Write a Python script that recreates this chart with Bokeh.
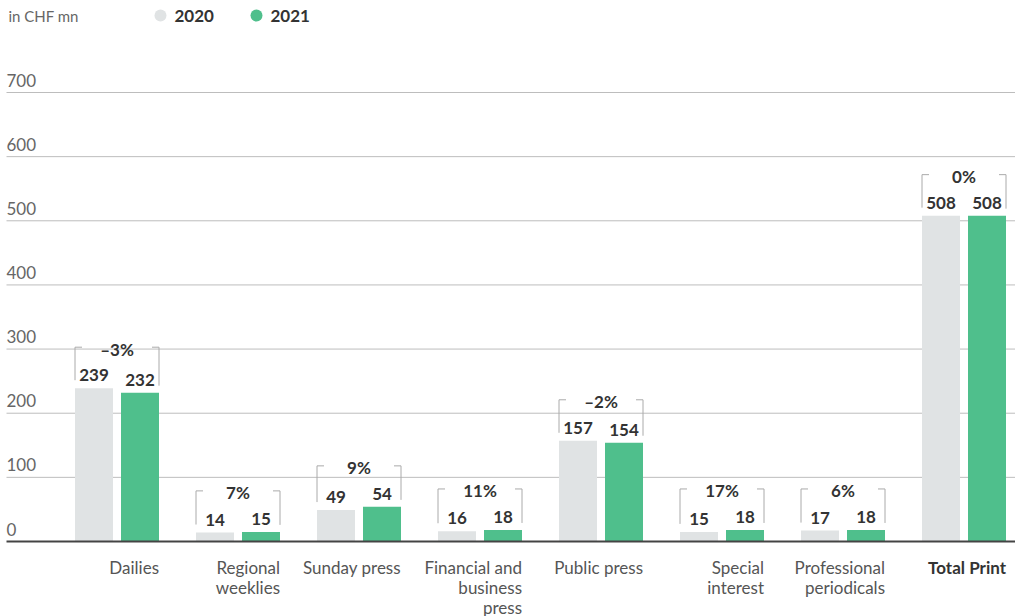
from bokeh.plotting import figure
from bokeh.models import Range1d
from bokeh.core.properties import value
from bokeh.embed import file_html
from bokeh.resources import INLINE

# ---------------- data ----------------
categories = ["Dailies", "Regional\nweeklies", "Sunday press", "Financial and\nbusiness\npress",
              "Public press", "Special\ninterest", "Professional\nperiodicals", "Total Print"]
values_2020 = [239, 14, 49, 16, 157, 15, 17, 508]
values_2021 = [232, 15, 54, 18, 154, 18, 18, 508]
changes = ["\u20133%", "7%", "9%", "11%", "\u20132%", "17%", "6%", "0%"]
y_ticks = [0, 100, 200, 300, 400, 500, 600, 700]
series = ["2020", "2021"]
unit_label = "in CHF mn"

# ---------------- layout ----------------
W, H = 1015, 616
STEP = 121.0            # px per category group
G0 = 116.5              # px of first group centre
ZERO_PX = 541.0         # px (from top) of value 0
PPU = 449.0 / 700.0     # px per value unit
OFF = 23.0 / STEP       # bar offset from group centre (x units)
BW = 38.0 / STEP        # bar width (x units)

X0 = -G0 / STEP
X1 = X0 + W / STEP
Y1 = ZERO_PX / PPU
Y0 = -(H - ZERO_PX) / PPU


def xd(px):
    return X0 + px / STEP


def yd(py):
    return (ZERO_PX - py) / PPU


FONT = value("Lato")
GREY = "#e0e3e4"
GREEN = "#4fbf8c"
DARK = "#333333"
MID = "#555555"

p = figure(width=W, height=H, x_range=Range1d(X0, X1), y_range=Range1d(Y0, Y1),
           output_backend="svg", toolbar_location=None,
           x_axis_location=None, y_axis_location=None, min_border=0)
p.grid.visible = False
p.outline_line_color = None
p.background_fill_color = "white"

# gridlines
grid_y = [t for t in y_ticks if t > 0]
p.segment(x0=[xd(6)] * len(grid_y), x1=[X1] * len(grid_y), y0=grid_y, y1=grid_y,
          line_color="#bdbdbd", line_width=1)

# y tick labels
p.text(x=[xd(6)] * len(y_ticks), y=[t + 12.5 / PPU for t in y_ticks], text=[str(t) for t in y_ticks],
       text_font=FONT, text_font_size="17px", text_color="#666666",
       text_align="left", text_baseline="middle")

idx = list(range(len(categories)))
xg = [i - OFF for i in idx]
xn = [i + OFF for i in idx]

# bars
p.vbar(x=xg, top=values_2020, bottom=0, width=BW, fill_color=GREY, line_color=None)
p.vbar(x=xn, top=values_2021, bottom=0, width=BW, fill_color=GREEN, line_color=None)

# zero line
p.segment(x0=[xd(6)], x1=[X1], y0=[0], y1=[0], line_color="#444444", line_width=2)

# value labels
p.text(x=xg, y=[v + 13 / PPU for v in values_2020], text=[str(v) for v in values_2020],
       text_font=FONT, text_font_size="17px", text_font_style="bold", text_color=DARK,
       text_align="center", text_baseline="middle")
p.text(x=xn, y=[v + 13 / PPU for v in values_2021], text=[str(v) for v in values_2021],
       text_font=FONT, text_font_size="17px", text_font_style="bold", text_color=DARK,
       text_align="center", text_baseline="middle")

# brackets
left = [i - OFF - BW / 2 for i in idx]
right = [i + OFF + BW / 2 for i in idx]
tops = [max(a, b) + 41 / PPU for a, b in zip(values_2020, values_2021)]
tick = 7 / STEP
BR = "#aaaaaa"
p.segment(x0=left, x1=left, y0=tops, y1=[v + 8 / PPU for v in values_2020], line_color=BR, line_width=1)
p.segment(x0=right, x1=right, y0=tops, y1=[v + 7 / PPU for v in values_2021], line_color=BR, line_width=1)
p.segment(x0=left, x1=[l + tick for l in left], y0=tops, y1=tops, line_color=BR, line_width=1)
p.segment(x0=[r - tick for r in right], x1=right, y0=tops, y1=tops, line_color=BR, line_width=1)
p.text(x=idx, y=[t - 2 / PPU for t in tops], text=changes, text_font=FONT, text_font_size="17px",
       text_font_style="bold", text_color=DARK, text_align="center", text_baseline="middle")

# category labels (right aligned to group's right edge)
n = len(categories)
p.text(x=right[:n - 1], y=[yd(556)] * (n - 1), text=categories[:n - 1], text_font=FONT,
       text_font_size="17px", text_color=MID, text_align="right", text_baseline="top",
       text_line_height=0.97)
p.text(x=right[n - 1:], y=[yd(556)], text=categories[n - 1:], text_font=FONT,
       text_font_size="17px", text_font_style="bold", text_color=DARK, text_align="right",
       text_baseline="top")

# legend / unit
p.text(x=[xd(8)], y=[yd(15)], text=[unit_label], text_font=FONT, text_font_size="15px",
       text_color="#666666", text_align="left", text_baseline="middle")
p.scatter(x=[xd(160), xd(256)], y=[yd(15)] * 2, size=12, marker="circle",
          fill_color=[GREY, GREEN], line_color=None)
p.text(x=[xd(174), xd(270)], y=[yd(15)] * 2, text=series, text_font=FONT, text_font_size="17px",
       text_font_style="bold", text_color=DARK, text_align="left", text_baseline="middle")

open("out.html", "w").write(file_html(p, INLINE))
